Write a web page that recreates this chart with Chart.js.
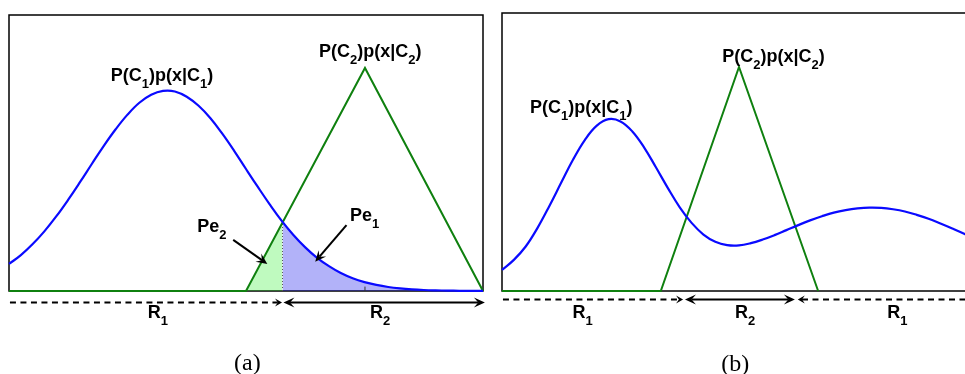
<!DOCTYPE html>
<html>
<head>
<meta charset="utf-8">
<script src="https://cdn.jsdelivr.net/npm/chart.js@4.4.1/dist/chart.umd.min.js"></script>
<style>
  html, body { margin: 0; padding: 0; background: #fff; overflow: hidden; width: 965px; height: 374px; }
  canvas { position: absolute; top: 0; }
</style>
</head>
<body>
<canvas id="panelA" width="490" height="374" style="left:0"></canvas>
<canvas id="panelB" width="500" height="374" style="left:490px"></canvas>
<script>
// Sample positions shared by both class-1 curves
const gridX = [0, 0.25, 0.5, 0.75, 1, 1.25, 1.5, 1.75, 2, 2.25, 2.5, 2.75, 3, 3.25, 3.5, 3.75, 4, 4.25, 4.5, 4.75,
               5, 5.25, 5.5, 5.75, 6, 6.25, 6.5, 6.75, 7, 7.25, 7.5, 7.75, 8, 8.25, 8.5, 8.75, 9, 9.25, 9.5, 9.75, 10];

// ---- Panel (a): one-hump class-1 density, triangular class-2 density ----
const classOneA = [0.098, 0.130, 0.170, 0.217, 0.271, 0.331, 0.395, 0.461, 0.526, 0.586, 0.639, 0.682, 0.711, 0.725, 0.723, 0.704,
                   0.671, 0.626, 0.570, 0.508, 0.442, 0.377, 0.314, 0.255, 0.203, 0.158, 0.120, 0.090, 0.065, 0.046, 0.032,
                   0.022, 0.0146, 0.0095, 0.006, 0.0037, 0.0023, 0.0014, 0.0008, 0.0005, 0.0003];
const classTwoXA = [0, 5.0, 7.51, 10];
const classTwoA  = [0, 0, 0.808, 0];
const boundaryA      = 5.77;   // decision boundary between R1 and R2
const boundaryValueA = 0.251;  // height where the two curves meet
const peTwoXA = [5.0, boundaryA];      // class-2 mass falling inside R1
const peTwoA  = [0, boundaryValueA];
const tickXA  = 7.51;

// ---- Panel (b): two-hump class-1 density, narrow triangle for class 2 ----
const classOneB = [0.076, 0.112, 0.160, 0.227, 0.306, 0.390, 0.473, 0.544, 0.595, 0.618, 0.610, 0.574, 0.516, 0.444, 0.370, 0.301,
                   0.245, 0.203, 0.177, 0.165, 0.164, 0.172, 0.185, 0.201, 0.219, 0.237, 0.254, 0.269, 0.282, 0.291, 0.297,
                   0.300, 0.299, 0.294, 0.286, 0.274, 0.260, 0.243, 0.225, 0.206, 0.185];
const classTwoXB = [0, 3.35, 5.0, 6.67];
const classTwoB  = [0, 0, 0.806, 0];
const boundariesB = [3.86, 6.18];

// ---- Text ----
const textC1 = [['P(C', 0], ['1', 1], [')p(x|C', 0], ['1', 1], [')', 0]];
const textC2 = [['P(C', 0], ['2', 1], [')p(x|C', 0], ['2', 1], [')', 0]];
const textPe1 = [['Pe', 0], ['1', 1]];
const textPe2 = [['Pe', 0], ['2', 1]];
const textR1 = [['R', 0], ['1', 1]];
const textR2 = [['R', 0], ['2', 1]];

const BLUE = '#0a0aff';
const GREEN = '#0f800f';
const pts = (xs, ys) => xs.map((x, i) => ({ x, y: ys[i] }));

function richText(ctx, parts, cx, by) {
  const main = 'bold 18px "Liberation Sans", Arial, sans-serif';
  const sub = 'bold 13px "Liberation Sans", Arial, sans-serif';
  let w = 0;
  parts.forEach(([t, s]) => { ctx.font = s ? sub : main; w += ctx.measureText(t).width; });
  let x = cx - w / 2;
  ctx.fillStyle = '#000';
  ctx.textAlign = 'left';
  ctx.textBaseline = 'alphabetic';
  parts.forEach(([t, s]) => {
    ctx.font = s ? sub : main;
    ctx.fillText(t, x, by + (s ? 7 : 0));
    x += ctx.measureText(t).width;
  });
}

function arrowHead(ctx, tx, ty, ang, len, half) {
  ctx.save();
  ctx.translate(tx, ty);
  ctx.rotate(ang);
  ctx.beginPath();
  ctx.moveTo(0, 0);
  ctx.lineTo(-len, -half);
  ctx.lineTo(-len * 0.6, 0);
  ctx.lineTo(-len, half);
  ctx.closePath();
  ctx.fill();
  ctx.restore();
}

function drawArrow(ctx, x0, y0, x1, y1, opt) {
  const ang = Math.atan2(y1 - y0, x1 - x0);
  const len = opt.len, half = opt.half;
  const cut = len * 0.6;
  let sx = x0, sy = y0, ex = x1 - Math.cos(ang) * cut, ey = y1 - Math.sin(ang) * cut;
  if (opt.both) { sx = x0 + Math.cos(ang) * cut; sy = y0 + Math.sin(ang) * cut; }
  ctx.save();
  ctx.strokeStyle = '#000';
  ctx.fillStyle = '#000';
  ctx.lineWidth = 2;
  ctx.setLineDash(opt.dash ? [6, 4.5] : []);
  ctx.beginPath();
  ctx.moveTo(sx, sy);
  ctx.lineTo(ex, ey);
  ctx.stroke();
  ctx.setLineDash([]);
  arrowHead(ctx, x1, y1, ang, len, half);
  if (opt.both) arrowHead(ctx, x0, y0, ang + Math.PI, len, half);
  ctx.restore();
}

// Frame, labels, region arrows and caption for each panel
const sketchPlugin = {
  id: 'sketch',
  beforeDatasetsDraw(chart) {
    const { ctx, chartArea: a } = chart;
    ctx.save();
    ctx.strokeStyle = '#000';
    ctx.lineWidth = 1.5;
    ctx.strokeRect(a.left, a.top, a.right - a.left, a.bottom - a.top);
    ctx.restore();
  },
  afterDraw(chart, args, o) {
    const { ctx } = chart;
    const sx = v => chart.scales.x.getPixelForValue(v);
    const sy = v => chart.scales.y.getPixelForValue(v);
    (o.labels || []).forEach(l => richText(ctx, l.text, sx(l.x), sy(l.y)));
    (o.arrows || []).forEach(r => drawArrow(ctx, sx(r.from[0]), sy(r.from[1]), sx(r.to[0]), sy(r.to[1]), r));
    if (o.caption) {
      ctx.save();
      ctx.font = '24px "Liberation Serif", "Times New Roman", serif';
      ctx.fillStyle = '#000';
      ctx.textAlign = 'center';
      ctx.textBaseline = 'alphabetic';
      ctx.fillText(o.caption.text, sx(o.caption.x), sy(o.caption.y));
      ctx.restore();
    }
  }
};
Chart.register(sketchPlugin);

function baseOptions(padding, sketch) {
  return {
    responsive: false,
    devicePixelRatio: 1,
    animation: false,
    events: [],
    layout: { padding },
    scales: {
      x: { type: 'linear', min: 0, max: 10, display: false },
      y: { type: 'linear', min: 0, max: 1, display: false }
    },
    elements: { point: { radius: 0 } },
    plugins: { legend: { display: false }, tooltip: { enabled: false }, sketch }
  };
}

const HEAD_BIG = { len: 11, half: 5 };
const HEAD_SMALL = { len: 7, half: 4 };
const SMOOTH = 0.4;

// Pe1: class-1 mass falling inside R2, starting where the curves meet
const peOneA = [{ x: boundaryA, y: boundaryValueA }].concat(
  pts(gridX, classOneA).filter(p => p.x > boundaryA));

// Panel (a)
const rowA = -0.042;
new Chart(document.getElementById('panelA'), {
  type: 'line',
  data: {
    datasets: [
      { label: 'P(C1)p(x|C1)', data: pts(gridX, classOneA), borderColor: BLUE, borderWidth: 2.2,
        tension: SMOOTH, fill: false, clip: false, order: 1 },
      { label: 'P(C2)p(x|C2)', data: pts(classTwoXA, classTwoA), borderColor: GREEN, borderWidth: 2,
        tension: 0, fill: false, clip: false, order: 2 },
      { label: 'Pe1', data: peOneA, borderWidth: 0, borderColor: 'rgba(0,0,0,0)',
        backgroundColor: 'rgba(0,0,235,0.3)', tension: SMOOTH, fill: 'origin', order: 6 },
      { label: 'Pe2', data: pts(peTwoXA, peTwoA), borderWidth: 0, borderColor: 'rgba(0,0,0,0)',
        backgroundColor: 'rgba(0,235,0,0.25)', tension: 0, fill: 'origin', order: 6 },
      { label: 'boundary', data: [{ x: boundaryA, y: 0 }, { x: boundaryA, y: boundaryValueA }],
        borderColor: '#555', borderWidth: 1, borderDash: [1, 2], fill: false, order: 4 },
      { label: 'tick', data: [{ x: tickXA, y: 0 }, { x: tickXA, y: 0.016 }],
        borderColor: '#333', borderWidth: 1, fill: false, order: 4 }
    ]
  },
  options: baseOptions({ left: 9, right: 7, top: 15, bottom: 83 }, {
    labels: [
      { text: textC1, x: 3.23, y: 0.761 },
      { text: textC2, x: 7.62, y: 0.848 },
      { text: textPe2, x: 4.28, y: 0.215 },
      { text: textPe1, x: 7.50, y: 0.255 },
      { text: textR1, x: 3.14, y: -0.098 },
      { text: textR2, x: 7.83, y: -0.098 }
    ],
    arrows: [
      { from: [4.73, 0.185], to: [5.45, 0.098], ...HEAD_BIG },
      { from: [7.12, 0.239], to: [6.46, 0.106], ...HEAD_BIG },
      { from: [0.02, rowA], to: [boundaryA - 0.01, rowA], dash: true, ...HEAD_SMALL },
      { from: [boundaryA + 0.02, rowA], to: [10.04, rowA], both: true, ...HEAD_BIG }
    ],
    caption: { text: '(a)', x: 5.03, y: -0.286 }
  })
});

// Panel (b)
const rowB = -0.031;
new Chart(document.getElementById('panelB'), {
  type: 'line',
  data: {
    datasets: [
      { label: 'P(C1)p(x|C1)', data: pts(gridX, classOneB), borderColor: BLUE, borderWidth: 2.2,
        tension: SMOOTH, fill: false, clip: false, order: 1 },
      { label: 'P(C2)p(x|C2)', data: pts(classTwoXB, classTwoB), borderColor: GREEN, borderWidth: 2,
        tension: 0, fill: false, clip: false, order: 2 }
    ]
  },
  options: baseOptions({ left: 12, right: 14, top: 13, bottom: 83 }, {
    labels: [
      { text: textC1, x: 1.67, y: 0.641 },
      { text: textC2, x: 5.73, y: 0.824 },
      { text: textR1, x: 1.70, y: -0.098 },
      { text: textR2, x: 5.13, y: -0.098 },
      { text: textR1, x: 8.34, y: -0.098 }
    ],
    arrows: [
      { from: [0.02, rowB], to: [boundariesB[0] - 0.04, rowB], dash: true, ...HEAD_SMALL },
      { from: [boundariesB[0], rowB], to: [boundariesB[1], rowB], both: true, ...HEAD_BIG },
      { from: [10, rowB], to: [boundariesB[1] + 0.06, rowB], dash: true, ...HEAD_SMALL }
    ],
    caption: { text: '(b)', x: 4.92, y: -0.286 }
  })
});
</script>
</body>
</html>
